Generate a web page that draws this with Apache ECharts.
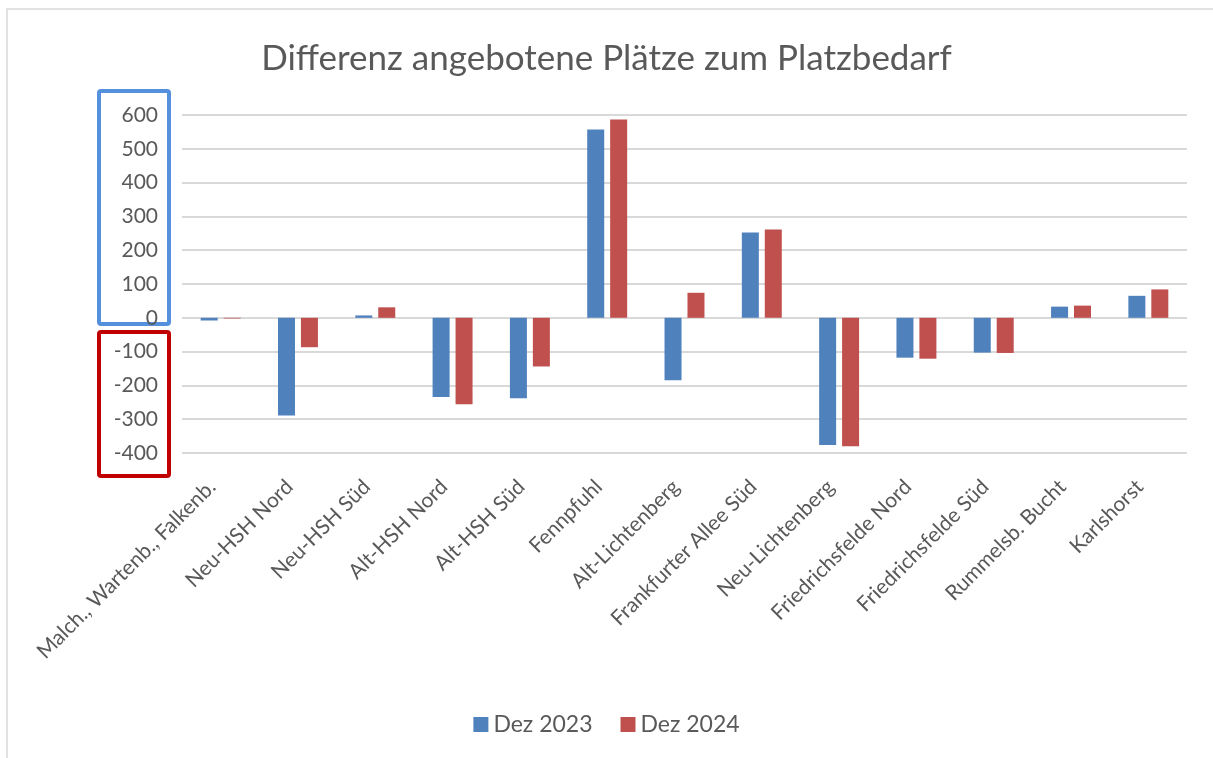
<!DOCTYPE html>
<html>
<head>
<meta charset="utf-8">
<script src="https://cdn.jsdelivr.net/npm/echarts@6/dist/echarts.min.js"></script>
<style>
  html, body { margin: 0; padding: 0; background: #fff; }
  #main { width: 1213px; height: 758px; }
</style>
</head>
<body>
<div id="main"></div>
<script>
const categories = [
    'Malch., Wartenb., Falkenb.', 'Neu-HSH Nord', 'Neu-HSH Süd', 'Alt-HSH Nord', 'Alt-HSH Süd',
    'Fennpfuhl', 'Alt-Lichtenberg', 'Frankfurter Allee Süd', 'Neu-Lichtenberg',
    'Friedrichsfelde Nord', 'Friedrichsfelde Süd', 'Rummelsb. Bucht', 'Karlshorst'
];
const dez2023 = [-8, -289, 7, -234, -238, 557, -185, 252, -376, -118, -103, 33, 65];
const dez2024 = [-2, -87, 31, -256, -144, 587, 74, 261, -380, -121, -104, 36, 84];
const seriesNames = ['Dez 2023', 'Dez 2024'];
const yTicks = { min: -400, max: 600, step: 100 };

const textColor = '#595959';
const fontFam = 'Lato, "Open Sans", sans-serif';

let chart = echarts.init(document.getElementById('main'));

let option = {
    animation: false,
    title: {
        text: 'Differenz angebotene Plätze zum Platzbedarf',
        left: 'center',
        top: 36,
        textStyle: { color: textColor, fontSize: 35, fontWeight: 'normal', fontFamily: fontFam }
    },
    legend: {
        bottom: 17,
        left: 'center',
        itemWidth: 15,
        itemHeight: 15,
        itemGap: 28,
        icon: 'rect',
        textStyle: { color: textColor, fontSize: 23, fontFamily: fontFam }
    },
    grid: { left: 182, right: 26, top: 115, bottom: 305 },
    xAxis: {
        type: 'category',
        data: categories,
        axisLine: { show: false },
        axisTick: { show: false },
        axisLabel: {
            rotate: 45,
            interval: 0,
            margin: 22,
            padding: [0, 12, 24, 0],
            color: textColor,
            fontSize: 21,
            fontFamily: fontFam
        }
    },
    yAxis: {
        type: 'value',
        min: yTicks.min,
        max: yTicks.max,
        interval: yTicks.step,
        axisLine: { show: false },
        axisTick: { show: false },
        axisLabel: { color: textColor, fontSize: 21, margin: 24, fontFamily: fontFam },
        splitLine: { lineStyle: { color: '#d9d9d9', width: 2 } }
    },
    series: [{
        name: seriesNames[0],
        type: 'bar',
        data: dez2023,
        barWidth: 17,
        barGap: '35%',
        itemStyle: { color: '#4F81BD' }
    }, {
        name: seriesNames[1],
        type: 'bar',
        data: dez2024,
        barWidth: 17,
        itemStyle: { color: '#C0504D' }
    }],
    graphic: [{
        type: 'rect',
        shape: { x: 7, y: 9, width: 1230, height: 760 },
        style: { fill: 'none', stroke: '#d9d9d9', lineWidth: 1.5 },
        silent: true
    }, {
        type: 'rect',
        shape: { x: 99, y: 91, width: 70, height: 233, r: 2 },
        style: { fill: 'none', stroke: '#5590dc', lineWidth: 4 },
        silent: true
    }, {
        type: 'rect',
        shape: { x: 99, y: 332, width: 70, height: 144, r: 2 },
        style: { fill: 'none', stroke: '#c00000', lineWidth: 4 },
        silent: true
    }]
};

chart.setOption(option);
</script>
</body>
</html>
